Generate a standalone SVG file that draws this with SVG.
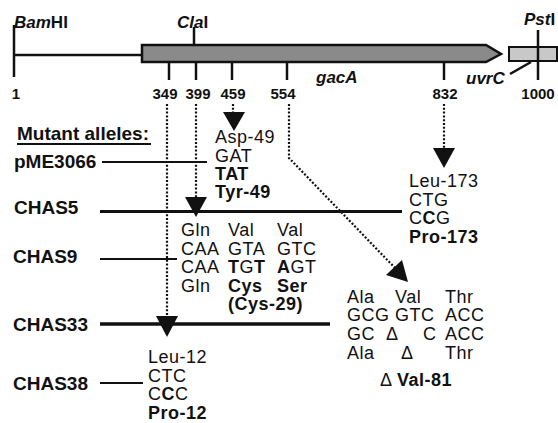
<svg xmlns="http://www.w3.org/2000/svg" width="558" height="423" viewBox="0 0 558 423">
<defs>
<style>
text{font-family:"Liberation Sans",Arial,sans-serif;fill:#111}
.site{font-size:17px;font-weight:bold;font-style:italic}
.num{font-size:15px;font-weight:bold;text-anchor:middle}
.lbl{font-size:19px;font-weight:bold}
.seq{font-size:18px;letter-spacing:0.5px}
.b{font-weight:bold}
.ln{stroke:#111;fill:none}
.dot{stroke:#111;stroke-width:2.2;stroke-dasharray:2 1.8;fill:none}
.head{fill:#111}
</style>
</defs>
<rect width="558" height="423" fill="#fff"/>
<g id="map">
<line class="ln" x1="14" y1="25" x2="14" y2="77" stroke-width="2.5"/>
<line class="ln" x1="14" y1="55" x2="142" y2="55" stroke-width="2.5"/>
<polygon points="142,45 486,45 501,54 486,62 142,62" fill="#8a8a8a" stroke="#111" stroke-width="2.5"/>
<rect x="509" y="47" width="48" height="14" fill="#c8c8c8" stroke="#111" stroke-width="2"/>
<line class="ln" x1="194" y1="27" x2="194" y2="45" stroke-width="2.5"/>
<line class="ln" x1="538" y1="30" x2="538" y2="80" stroke-width="2.5"/>
<line class="ln" x1="510" y1="74" x2="531" y2="62" stroke-width="2.5"/>
<g stroke="#111" stroke-width="2.5">
<line x1="169" y1="62" x2="169" y2="80"/>
<line x1="196" y1="62" x2="196" y2="80"/>
<line x1="232" y1="62" x2="232" y2="80"/>
<line x1="287" y1="62" x2="287" y2="80"/>
<line x1="444" y1="62" x2="444" y2="80"/>
</g>
<text class="site" x="14" y="28">Bam<tspan font-style="normal">HI</tspan></text>
<text class="site" x="177" y="28">Cla<tspan font-style="normal">I</tspan></text>
<text class="site" x="524" y="25">Pst<tspan font-style="normal">I</tspan></text>
<text class="site" x="316" y="83">gacA</text>
<text class="site" x="466" y="84">uvrC</text>
<text class="num" x="16" y="99">1</text>
<text class="num" x="165" y="99">349</text>
<text class="num" x="198" y="99">399</text>
<text class="num" x="233" y="99">459</text>
<text class="num" x="283" y="99">554</text>
<text class="num" x="445" y="99">832</text>
<text class="num" x="538" y="99">1000</text>
</g>
<g id="connectors">
<line class="dot" x1="167" y1="104" x2="167" y2="318"/>
<polygon class="head" points="156,316 178,316 167,337"/>
<line class="dot" x1="196" y1="104" x2="196" y2="199"/>
<polygon class="head" points="185,197 207,197 196,217"/>
<line class="dot" x1="233" y1="104" x2="233" y2="113"/>
<polygon class="head" points="223,112 245,112 234,131"/>
<polyline class="dot" points="289,104 289,158 396,269"/>
<polygon class="head" points="408,282 386,275 402,260"/>
<line class="dot" x1="444" y1="104" x2="444" y2="149"/>
<polygon class="head" points="433,148 455,148 444,168"/>
</g>
<g id="mutant-alleles">
<text class="lbl" x="17" y="140">Mutant alleles:</text>
<line class="ln" x1="17" y1="144" x2="151" y2="144" stroke-width="1.8"/>
</g>
<g id="pME3066">
<text class="lbl" x="14" y="168">pME3066</text>
<line class="ln" x1="102" y1="162" x2="207" y2="162" stroke-width="2"/>
<text class="seq" x="215" y="143">Asp-49</text>
<text class="seq" x="215" y="162">GAT</text>
<text class="seq b" x="215" y="180">TAT</text>
<text class="seq b" x="215" y="198">Tyr-49</text>
</g>
<g id="CHAS5">
<text class="lbl" x="14" y="214">CHAS5</text>
<line class="ln" x1="100" y1="211.5" x2="402" y2="211.5" stroke-width="3"/>
<text class="seq" x="409" y="187">Leu-173</text>
<text class="seq" x="409" y="205.5">CTG</text>
<text class="seq" x="409" y="224">C<tspan class="b">C</tspan>G</text>
<text class="seq b" x="409" y="242.5">Pro-173</text>
</g>
<g id="CHAS9">
<text class="lbl" x="13" y="263">CHAS9</text>
<line class="ln" x1="100" y1="259" x2="177" y2="259" stroke-width="2"/>
<text class="seq" x="181" y="236">Gln</text>
<text class="seq" x="228" y="236">Val</text>
<text class="seq" x="277" y="236">Val</text>
<text class="seq" x="181" y="254.5">CAA</text>
<text class="seq" x="228" y="254.5">GTA</text>
<text class="seq" x="277" y="254.5">GTC</text>
<text class="seq" x="181" y="273">CAA</text>
<text class="seq" x="228" y="273"><tspan class="b">T</tspan>G<tspan class="b">T</tspan></text>
<text class="seq" x="277" y="273"><tspan class="b">A</tspan>GT</text>
<text class="seq" x="181" y="291.5">Gln</text>
<text class="seq b" x="228" y="291.5">Cys</text>
<text class="seq b" x="277" y="291.5">Ser</text>
<text class="seq b" x="228" y="310">(Cys-29)</text>
</g>
<g id="CHAS33">
<text class="lbl" x="13" y="331">CHAS33</text>
<line class="ln" x1="100" y1="324" x2="330" y2="324" stroke-width="3.5"/>
<text class="seq" x="347" y="303">Ala</text>
<text class="seq" x="395" y="303">Val</text>
<text class="seq" x="445" y="303">Thr</text>
<text class="seq" x="347" y="321">GCG</text>
<text class="seq" x="395" y="321">GTC</text>
<text class="seq" x="445" y="321">ACC</text>
<text class="seq" x="347" y="340">GC</text>
<text class="seq" x="386" y="340">Δ</text>
<text class="seq" x="423" y="340">C</text>
<text class="seq" x="445" y="340">ACC</text>
<text class="seq" x="347" y="359">Ala</text>
<text class="seq" x="401" y="359">Δ</text>
<text class="seq" x="445" y="359">Thr</text>
<text class="seq" x="380" y="386">Δ <tspan class="b">Val-81</tspan></text>
</g>
<g id="CHAS38">
<text class="lbl" x="13" y="390">CHAS38</text>
<line class="ln" x1="100" y1="383" x2="143" y2="383" stroke-width="2"/>
<text class="seq" x="148" y="363">Leu-12</text>
<text class="seq" x="148" y="381.5">CTC</text>
<text class="seq" x="148" y="400">C<tspan class="b">C</tspan>C</text>
<text class="seq b" x="148" y="418.5">Pro-12</text>
</g>
</svg>
